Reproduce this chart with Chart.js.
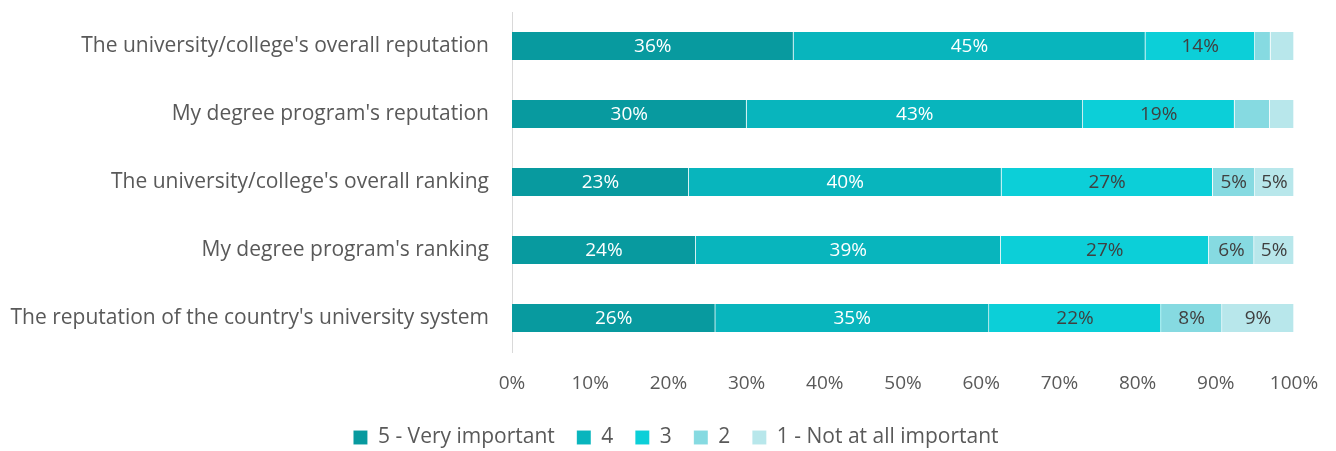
<!DOCTYPE html>
<html>
<head>
<meta charset="utf-8">
<script src="https://cdn.jsdelivr.net/npm/chart.js@4/dist/chart.umd.min.js"></script>
<style>
  html, body { margin: 0; padding: 0; background: #fff; }
  #wrap { width: 1336px; height: 451px; }
</style>
</head>
<body>
<div id="wrap"><canvas id="chart"></canvas></div>
<script>
const categories = [
  "The university/college's overall reputation",
  "My degree program's reputation",
  "The university/college's overall ranking",
  "My degree program's ranking",
  "The reputation of the country's university system",
]

const veryImportant = [36, 30, 22.6, 23.5, 26]
const four = [45, 43, 40, 39, 35]
const three = [14, 19.4, 27, 26.6, 22]
const two = [2, 4.5, 5.4, 5.8, 7.8]
const notImportant = [3, 3.1, 5, 5.1, 9.2]

const seriesNames = ['5 - Very important', '4', '3', '2', '1 - Not at all important']
const seriesColors = ['#089a9f', '#08b5bd', '#0ccfd8', '#86dae1', '#b8e7eb']
const labelColors = ['#ffffff', '#ffffff', '#404040', '#404040', '#404040']

const xTicks = [0, 10, 20, 30, 40, 50, 60, 70, 80, 90, 100]

const FONT = "'Open Sans', sans-serif"

// prints the rounded share in the middle of every segment wide enough to hold it
const segmentLabels = {
  id: 'segmentLabels',
  afterDatasetsDraw(chart) {
    const { ctx } = chart
    ctx.save()
    ctx.font = `19px ${FONT}`
    ctx.textAlign = 'center'
    ctx.textBaseline = 'middle'
    chart.data.datasets.forEach((ds, i) => {
      const meta = chart.getDatasetMeta(i)
      meta.data.forEach((bar, j) => {
        const v = ds.data[j]
        if (v < 5) return
        const mid = (bar.x + bar.base) / 2
        ctx.fillStyle = labelColors[i]
        ctx.fillText(Math.round(v) + '%', mid, bar.y + 1)
      })
    })
    ctx.restore()
  },
}

// legend gets a fixed height so the plot keeps its room,
// and sits a little right of the canvas centre
const legendPlacement = {
  id: 'legendPlacement',
  afterInit(chart) {
    const legend = chart.legend
    if (!legend || legend._fixed) return
    const fit = legend.fit
    legend.fit = function () {
      fit.call(this)
      this.height = 46
    }
    legend._fixed = true
  },
  afterLayout(chart) {
    if (chart.legend) chart.legend.left = 16
  },
}

const allSeries = [veryImportant, four, three, two, notImportant]

new Chart(document.getElementById('chart'), {
  type: 'bar',
  data: {
    labels: categories,
    datasets: allSeries.map((values, i) => ({
      label: seriesNames[i],
      data: values,
      backgroundColor: seriesColors[i],
      borderColor: 'rgba(255,255,255,0.35)',
      borderWidth: { left: 0, right: 1, top: 0, bottom: 0 },
      borderSkipped: false,
      barThickness: 28,
    })),
  },
  options: {
    indexAxis: 'y',
    responsive: true,
    maintainAspectRatio: false,
    animation: false,
    layout: { padding: { top: 12, right: 0, left: 0, bottom: 0 } },
    scales: {
      x: {
        stacked: true,
        min: 0,
        max: 100,
        grid: { display: false },
        border: { display: false },
        afterBuildTicks: (scale) => {
          scale.ticks = xTicks.map((v) => ({ value: v }))
        },
        ticks: {
          color: '#595959',
          font: { family: FONT, size: 19 },
          padding: 12,
          maxRotation: 0,
          callback: (v) => v + '%',
        },
        afterFit: (scale) => {
          scale.height = 53
          scale.paddingLeft = 0
          scale.paddingRight = 42
        },
      },
      y: {
        stacked: true,
        grid: { display: false },
        border: { display: true, color: '#d9d9d9', width: 1 },
        ticks: {
          color: '#595959',
          font: { family: FONT, size: 21 },
          padding: 15,
        },
        afterFit: (scale) => {
          scale.width = 512
          scale.paddingTop = 0
          scale.paddingBottom = 0
        },
      },
    },
    plugins: {
      legend: {
        position: 'bottom',
        labels: {
          color: '#595959',
          font: { family: FONT, size: 21 },
          boxWidth: 14,
          boxHeight: 14,
          padding: 22,
        },
      },
      tooltip: { enabled: false },
    },
  },
  plugins: [segmentLabels, legendPlacement],
})
</script>
</body>
</html>
